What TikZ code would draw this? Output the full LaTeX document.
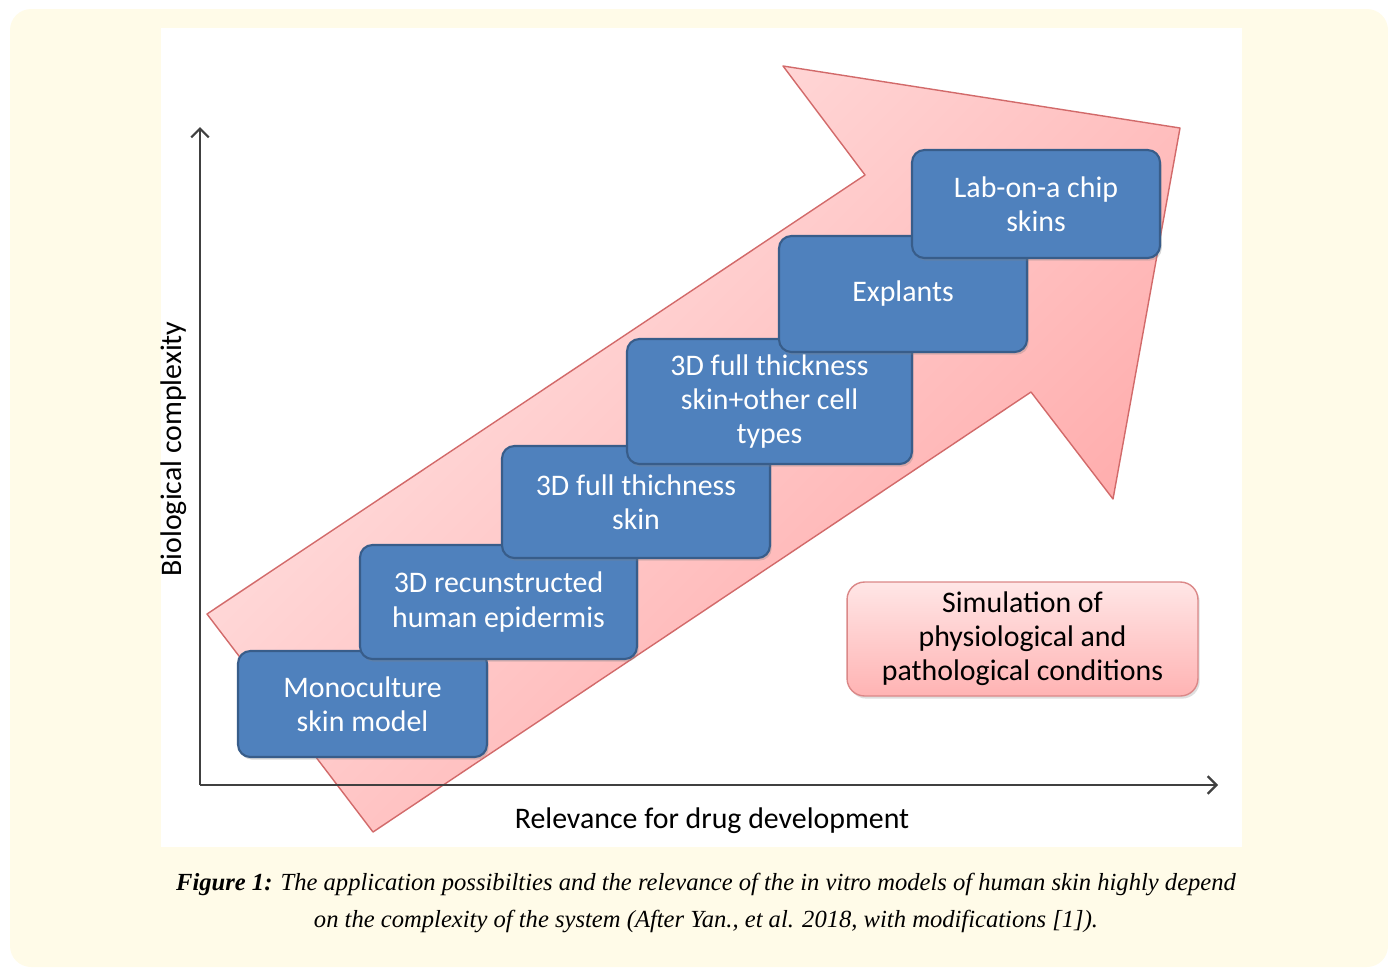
\documentclass[tikz,border=0pt]{standalone}
\usepackage{fontspec}
\setmainfont{Carlito}
\newfontfamily\capfont{Liberation Serif}
\usetikzlibrary{positioning,arrows.meta,shadows}

\definecolor{cream}{HTML}{FFFBE8}
\definecolor{stageblue}{HTML}{4F81BD}
\definecolor{stageline}{HTML}{385D8A}
\definecolor{pinklight}{HTML}{FFE6E6}
\definecolor{pinkdark}{HTML}{FFA6A6}
\definecolor{pinkline}{HTML}{D26A6A}
\definecolor{axisgray}{HTML}{404040}

\begin{document}
\begin{tikzpicture}[x=0.02cm, y=-0.02cm, >={Straight Barb[length=5pt,width=10pt]},
  stage/.style={rectangle, rounded corners=7pt, draw=stageline, line width=1.2pt, fill=stageblue,
    text=white, align=center, font=\fontsize{17}{19.4}\selectfont, inner sep=0pt,
    drop shadow={shadow xshift=1pt, shadow yshift=-1.5pt, opacity=0.3}},
  note/.style={rectangle, rounded corners=10pt, draw=pinkline!80, line width=0.8pt,
    top color=pinklight, bottom color=pinkdark!85, align=center, text=black,
    font=\fontsize{17}{19.4}\selectfont, inner sep=0pt,
    drop shadow={shadow xshift=1pt, shadow yshift=-1.5pt, opacity=0.25}},
  axis/.style={draw=axisgray, line width=1.3pt}]

\useasboundingbox (0,0) rectangle (1388,967);
\fill[cream, rounded corners=12pt] (10,9) rectangle (1388,967);
\fill[white] (161,28) rectangle (1242,847);

% big arrow
\shade[top color=pinklight, bottom color=pinkdark, shading angle=45]
  (207,614) -- (865,175) -- (783,66) -- (1180,128) -- (1113,499) -- (1031,392) -- (373,832) -- cycle;
\draw[pinkline, line width=0.8pt, line join=round]
  (207,614) -- (865,175) -- (783,66) -- (1180,128) -- (1113,499) -- (1031,392) -- (373,832) -- cycle;

% axes
\coordinate (origin) at (200,785);
\coordinate (ytop) at (200,127);
\coordinate (xend) at (1218,785);
\draw[axis, ->] (origin) -- (ytop);
\draw[axis, ->] (origin) -- (xend);

% stages
\node (mono) [stage, minimum width=4.98cm, minimum height=2.12cm] at (362.5,704) {Monoculture\\skin model};
\node (epidermis) [stage, minimum width=5.54cm, minimum height=2.28cm] at (498.5,602) {3D recunstructed\\human epidermis};
\node (fullskin) [stage, minimum width=5.36cm, minimum height=2.24cm] at (636,502) {3D full thichness\\skin};
\node (fullcells) [stage, minimum width=5.70cm, minimum height=2.50cm] at (769.5,401.5) {3D full thickness\\skin+other cell\\types};
\node (explants) [stage, minimum width=4.96cm, minimum height=2.32cm] at (903,294) {Explants};
\node (chip) [stage, minimum width=4.96cm, minimum height=2.16cm] at (1036,204) {Lab-on-a chip\\skins};

\node (sim) [note, minimum width=7.02cm, minimum height=2.28cm] at (1022.5,639) {Simulation of\\physiological and\\pathological conditions};

% axis labels
\node (xlabel) [font=\fontsize{17}{19.4}\selectfont] at (712,821) {Relevance for drug development};
\node (ylabel) [font=\fontsize{17}{19.4}\selectfont, rotate=90] at (174,449) {Biological complexity};

% caption
\node (caption) [font=\capfont\itshape\fontsize{14}{21.6}\selectfont, align=center] at (706,903)
  {\textbf{Figure 1:} The application possibilties and the relevance of the in vitro models of human skin highly depend\\
   on the complexity of the system (After Yan., et al. 2018, with modifications [1]).};
\end{tikzpicture}
\end{document}
